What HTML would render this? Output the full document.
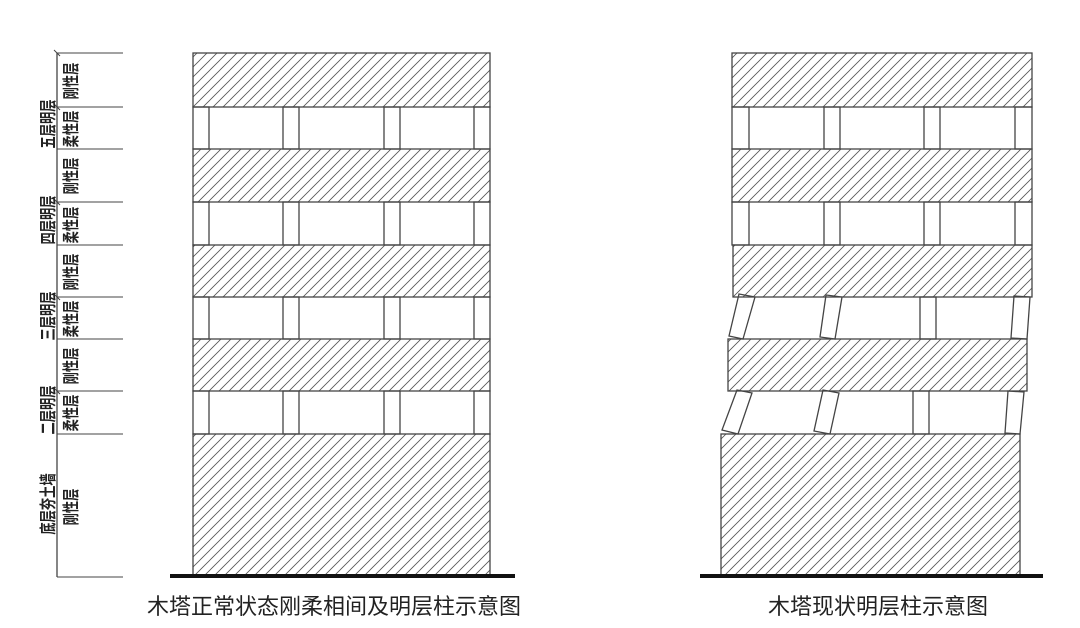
<!DOCTYPE html>
<html><head><meta charset="utf-8"><style>
html,body{margin:0;padding:0;background:#fff;}
svg{display:block;}
text{font-family:"Liberation Sans","Noto Sans CJK SC",sans-serif;fill:#222;}
</style></head><body>
<svg width="1080" height="628" viewBox="0 0 1080 628" xmlns="http://www.w3.org/2000/svg">
<defs>
<pattern id="h" patternUnits="userSpaceOnUse" width="10" height="10">
<path d="M-1,11 L11,-1 M-6,6 L6,-6 M4,16 L16,4" stroke="#555" stroke-width="0.8"/>
</pattern>
</defs>
<g stroke="#444" stroke-width="1.3">
<g fill="url(#h)">
<rect x="193" y="53" width="297" height="54"/>
<rect x="193" y="149" width="297" height="53"/>
<rect x="193" y="245" width="297" height="52"/>
<rect x="193" y="339" width="297" height="52"/>
<rect x="193" y="434" width="297" height="143"/>
</g>
<g fill="none">
<rect x="193" y="107" width="16" height="42"/><rect x="283" y="107" width="16" height="42"/><rect x="384" y="107" width="16" height="42"/><rect x="474" y="107" width="16" height="42"/>
<rect x="193" y="202" width="16" height="43"/><rect x="283" y="202" width="16" height="43"/><rect x="384" y="202" width="16" height="43"/><rect x="474" y="202" width="16" height="43"/>
<rect x="193" y="297" width="16" height="42"/><rect x="283" y="297" width="16" height="42"/><rect x="384" y="297" width="16" height="42"/><rect x="474" y="297" width="16" height="42"/>
<rect x="193" y="391" width="16" height="43"/><rect x="283" y="391" width="16" height="43"/><rect x="384" y="391" width="16" height="43"/><rect x="474" y="391" width="16" height="43"/>
</g>
<g fill="url(#h)">
<rect x="732" y="53" width="300" height="54"/>
<rect x="732" y="149" width="300" height="53"/>
<rect x="733" y="245" width="299" height="52"/>
<rect x="728" y="339" width="299" height="52"/>
<rect x="721" y="434" width="299" height="143"/>
</g>
<g fill="none">
<rect x="732" y="107" width="17" height="42"/><rect x="824" y="107" width="16" height="42"/><rect x="924" y="107" width="16" height="42"/><rect x="1015" y="107" width="17" height="42"/>
<rect x="732" y="202" width="17" height="43"/><rect x="824" y="202" width="16" height="43"/><rect x="924" y="202" width="16" height="43"/><rect x="1015" y="202" width="17" height="43"/>
<polygon points="739,294 755,297 743,339 729,336"/>
<polygon points="826,295 842,297 835,339 820,337"/>
<rect x="920" y="297" width="16" height="42"/>
<polygon points="1014,296 1030,297 1027,339 1011,338"/>
<polygon points="737,390 752,393 738,434 722,430"/>
<polygon points="823,390 839,393 830,434 814,431"/>
<rect x="913" y="391" width="16" height="43"/>
<polygon points="1008,391 1024,392 1020,434 1005,433"/>
</g>
<line x1="57" y1="53" x2="57" y2="577"/>
<g stroke-width="1">
<line x1="57" y1="53" x2="123" y2="53"/><line x1="57" y1="107" x2="123" y2="107"/><line x1="57" y1="149" x2="123" y2="149"/>
<line x1="57" y1="202" x2="123" y2="202"/><line x1="57" y1="245" x2="123" y2="245"/><line x1="57" y1="297" x2="123" y2="297"/>
<line x1="57" y1="339" x2="123" y2="339"/><line x1="57" y1="391" x2="123" y2="391"/><line x1="57" y1="434" x2="123" y2="434"/>
<line x1="57" y1="577" x2="123" y2="577"/>
<line x1="54" y1="50" x2="60" y2="56"/><line x1="54" y1="104" x2="60" y2="110"/><line x1="54" y1="199" x2="60" y2="205"/><line x1="54" y1="294" x2="60" y2="300"/><line x1="54" y1="388" x2="60" y2="394"/>
</g>
</g>
<rect x="170" y="574" width="345" height="4" fill="#111"/>
<rect x="700" y="574" width="343" height="4" fill="#111"/>
<g font-size="17" font-weight="bold" text-anchor="middle">
<text transform="translate(77,81) rotate(-90) scale(0.72,1)">刚性层</text>
<text transform="translate(77,129) rotate(-90) scale(0.72,1)">柔性层</text>
<text transform="translate(77,176) rotate(-90) scale(0.72,1)">刚性层</text>
<text transform="translate(77,225) rotate(-90) scale(0.72,1)">柔性层</text>
<text transform="translate(77,272) rotate(-90) scale(0.72,1)">刚性层</text>
<text transform="translate(77,319) rotate(-90) scale(0.72,1)">柔性层</text>
<text transform="translate(77,366) rotate(-90) scale(0.72,1)">刚性层</text>
<text transform="translate(77,413) rotate(-90) scale(0.72,1)">柔性层</text>
<text transform="translate(77,507) rotate(-90) scale(0.72,1)">刚性层</text>
<text transform="translate(54,124) rotate(-90) scale(0.72,1)">五层明层</text>
<text transform="translate(54,220) rotate(-90) scale(0.72,1)">四层明层</text>
<text transform="translate(54,316) rotate(-90) scale(0.72,1)">三层明层</text>
<text transform="translate(54,410) rotate(-90) scale(0.72,1)">二层明层</text>
<text transform="translate(54,504) rotate(-90) scale(0.72,1)">底层夯土墙</text>
</g>
<g font-size="22" text-anchor="middle">
<text x="334" y="614">木塔正常状态刚柔相间及明层柱示意图</text>
<text x="878" y="614">木塔现状明层柱示意图</text>
</g>
</svg>
</body></html>
